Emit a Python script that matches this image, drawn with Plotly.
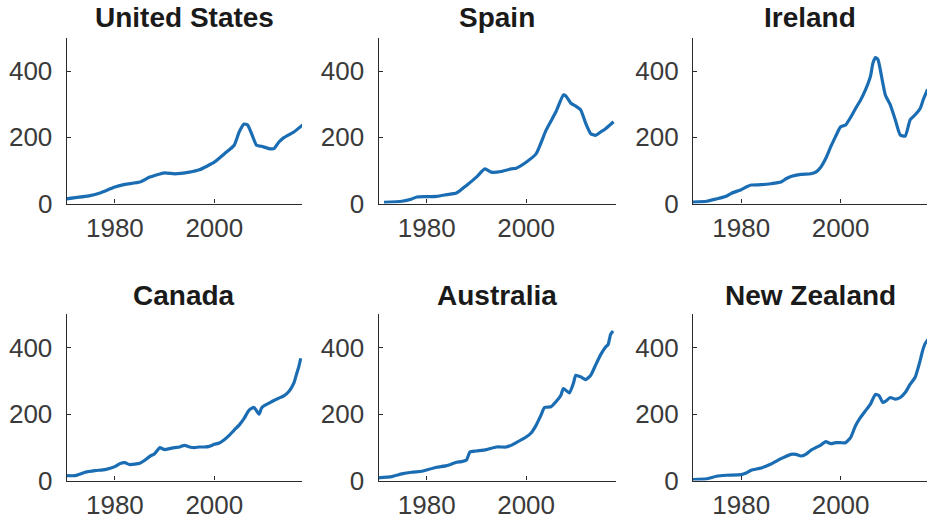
import plotly.graph_objects as go

# house price index
titles = ["United States", "Spain", "Ireland", "Canada", "Australia", "New Zealand"]

us_years = [1970, 1975, 1977, 1980, 1982, 1985, 1987, 1990, 1992, 1995, 1997, 2000, 2002, 2004,
            2005, 2006, 2006.7, 2007.5, 2008.5, 2009.5, 2011, 2012, 2013, 2014, 2016, 2018]
us_vals = [14, 24, 32, 50, 58, 65, 80, 93, 90, 95, 102, 125, 150, 176,
           216, 240, 237, 211, 176, 173, 166, 166, 186, 199, 216, 240]

es_years = [1971.4, 1975, 1977, 1978, 1980, 1982, 1984, 1986, 1988, 1990, 1991.7, 1993, 1995, 1997,
            1998, 2000, 2002, 2004, 2006, 2007.5, 2008, 2009, 2010, 2011, 2012, 2013, 2014, 2015,
            2016, 2017.6]
es_vals = [4, 7, 14, 20, 21, 22, 27, 32, 55, 80, 105, 95, 97, 105,
           107, 125, 150, 221, 277, 328, 325, 303, 294, 282, 242, 211, 206, 216,
           226, 247]

ie_years = [1970, 1973, 1975, 1977, 1978, 1980, 1981, 1982, 1984, 1986, 1988, 1989, 1990, 1992,
            1994, 1995, 1996, 1997, 1998, 1999, 2000, 2001, 2002, 2003, 2004, 2005, 2006, 2006.5,
            2007, 2007.5, 2008, 2008.5, 2009, 2010, 2011, 2012, 2013, 2014, 2015, 2016, 2016.7,
            2017.5]
ie_vals = [4, 7, 14, 22, 31, 42, 50, 56, 57, 60, 65, 75, 82, 88,
           90, 95, 110, 136, 171, 203, 232, 237, 260, 287, 312, 343, 384, 424,
           441, 435, 403, 363, 328, 298, 253, 207, 204, 253, 268, 287, 317,
           345]

ca_years = [1970, 1972, 1974, 1976, 1978, 1980, 1981, 1982, 1983, 1985, 1986, 1987, 1988, 1989,
            1990, 1991, 1992, 1993, 1994, 1995, 1996, 1997, 1998, 1999, 2000, 2001, 2002, 2003,
            2004, 2005, 2006, 2007, 2008, 2009, 2009.5, 2010, 2011, 2012, 2013, 2014, 2015, 2016,
            2016.5, 2017, 2017.4]
ca_vals = [15, 15, 25, 30, 33, 42, 51, 54, 48, 52, 61, 73, 81, 99,
           93, 96, 99, 101, 106, 101, 99, 101, 101, 103, 109, 113, 123, 136,
           152, 167, 187, 212, 220, 200, 218, 225, 233, 241, 248, 255, 268, 293,
           318, 343, 368]

au_years = [1970, 1973, 1975, 1977, 1979, 1980, 1982, 1984, 1986, 1987, 1988, 1988.7, 1990, 1992,
            1994, 1996, 1997, 1998, 2000, 2001, 2002, 2003, 2003.7, 2005, 2006, 2007, 2007.5,
            2008.7, 2009.5, 2010, 2011, 2012, 2013, 2014, 2015, 2016, 2016.5, 2017, 2017.5]
au_vals = [8, 12, 20, 25, 28, 32, 40, 45, 55, 57, 62, 86, 89, 93,
           101, 101, 106, 114, 131, 143, 166, 197, 220, 222, 237, 257, 277,
           264, 292, 317, 312, 304, 317, 348, 379, 402, 409, 440, 450]

nz_years = [1970, 1973, 1975, 1977, 1980, 1981, 1982, 1984, 1986, 1988, 1990, 1991, 1992, 1993,
            1994, 1996, 1997, 1998, 1999, 2000, 2001, 2002, 2003, 2004, 2005, 2006, 2007, 2007.7,
            2008.5, 2009, 2010, 2011, 2012, 2013, 2014, 2015, 2016, 2016.5, 2017, 2017.6]
nz_vals = [3, 5, 13, 16, 18, 23, 31, 38, 50, 66, 79, 79, 74, 79,
           91, 107, 117, 111, 114, 114, 114, 129, 165, 190, 210, 230, 259, 256,
           235, 238, 250, 245, 250, 265, 290, 311, 361, 391, 412, 425]

series = [(us_years, us_vals), (es_years, es_vals), (ie_years, ie_vals),
          (ca_years, ca_vals), (au_years, au_vals), (nz_years, nz_vals)]

# the photographed page comes out squeezed vertically (~537 -> 523), so lay out on 537
W, H = 927, 537
SY = H / 523.0
col_px = [(66.7, 302), (378.5, 616), (693, 927)]
row_px = [(38, 204), (315, 481.5)]
title_px = [18, 296]

FONT = "Liberation Sans, Arial, sans-serif"
AX = "#2b2b2b"

fig = go.Figure()
for i, (yrs, vals) in enumerate(series):
    r, c = divmod(i, 3)
    n = "" if i == 0 else str(i + 1)
    x0, x1 = col_px[c]
    y0, y1 = row_px[r][0] * SY, row_px[r][1] * SY
    xend = 1970.3 + (x1 - x0) / 4.97
    fig.add_trace(go.Scatter(x=yrs, y=vals, mode="lines", xaxis="x" + n, yaxis="y" + n,
                             line=dict(color="#1b6db3", width=3.2, shape="spline", smoothing=0.5),
                             showlegend=False, hoverinfo="skip"))
    common = dict(showline=True, linecolor=AX, linewidth=1.3, ticks="inside", ticklen=4,
                  tickcolor=AX, showgrid=False, zeroline=False,
                  tickfont=dict(family=FONT, size=26, color="#3a3a3a"))
    fig.layout["xaxis" + n] = dict(domain=[x0 / W, x1 / W], range=[1970.3, xend],
                                   anchor="y" + n, tickvals=[1980, 2000], ticklabelstandoff=1,
                                   **common)
    fig.layout["yaxis" + n] = dict(domain=[1 - y1 / H, 1 - y0 / H], range=[0, 500],
                                   anchor="x" + n, tickvals=[0, 200, 400], ticklabelstandoff=8,
                                   **common)
    fig.add_annotation(text="<b>%s</b>" % titles[i], xref="paper", yref="paper",
                       x=(x0 + x1) / 2 / W, y=1 - title_px[r] * SY / H, xanchor="center",
                       yanchor="middle", showarrow=False,
                       font=dict(family=FONT, size=28, color="#1a1a1a"))

fig.update_layout(width=W, height=H, margin=dict(l=0, r=0, t=0, b=0),
                  plot_bgcolor="white", paper_bgcolor="white")
fig.write_html("out.html", config={"displayModeBar": False},
               post_script="document.body.style.margin='0';document.body.style.overflow='hidden';")
